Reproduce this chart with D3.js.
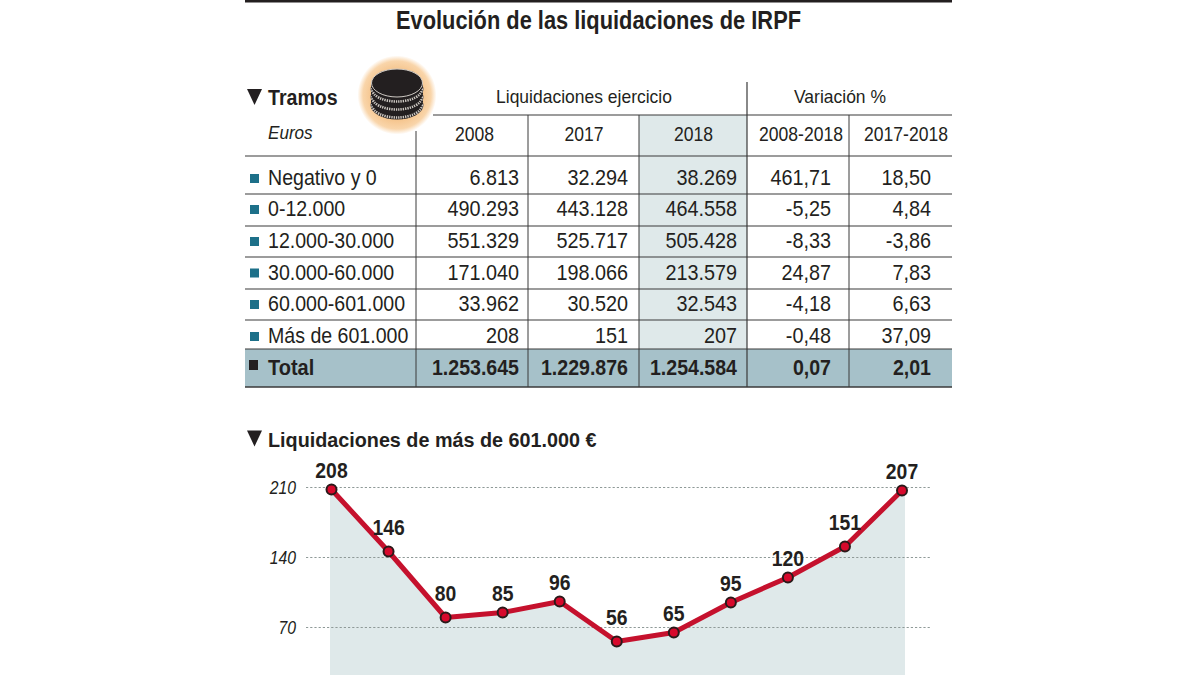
<!DOCTYPE html>
<html><head><meta charset="utf-8">
<script src="https://cdn.jsdelivr.net/npm/d3@7/dist/d3.min.js"></script>
<style>html,body{margin:0;padding:0;background:#fff}svg{display:block}text{font-family:"Liberation Sans",Arial,sans-serif;fill:#231f20}</style>
</head><body><svg id="c" width="1200" height="675"></svg>
<script>
const title="Evolución de las liquidaciones de IRPF";
const tramos=["Negativo y 0","0-12.000","12.000-30.000","30.000-60.000","60.000-601.000","Más de 601.000"];
const col2008=["6.813","490.293","551.329","171.040","33.962","208"];
const col2017=["32.294","443.128","525.717","198.066","30.520","151"];
const col2018=["38.269","464.558","505.428","213.579","32.543","207"];
const var0818=["461,71","-5,25","-8,33","24,87","-4,18","-0,48"];
const var1718=["18,50","4,84","-3,86","7,83","6,63","37,09"];
const totalRow=["1.253.645","1.229.876","1.254.584","0,07","2,01"];
const headYears=["2008","2017","2018","2008-2018","2017-2018"];
const years=[2008,2009,2010,2011,2012,2013,2014,2015,2016,2017,2018];
const liquidaciones=[208,146,80,85,96,56,65,95,120,151,207];
const yTicks=[70,140,210];

const svg=d3.select("#c");
const ink="#231f20", line="#3a3a3a";
// o.c squeezes the text horizontally to the narrower face of the original
const T=(x,y,s,size,o={})=>{
  const t=svg.append("text").attr("x",x).attr("y",y).text(s)
    .attr("font-size",size).attr("text-anchor",o.a||"start").attr("font-weight",o.b?"700":"400")
    .attr("font-style",o.i?"italic":"normal");
  if(o.c){t.attr("textLength",t.node().getComputedTextLength()*o.c).attr("lengthAdjust","spacingAndGlyphs");}
  return t;
};
const L=(x1,y1,x2,y2,w=1,c=line)=>svg.append("line").attr("x1",x1).attr("y1",y1).attr("x2",x2).attr("y2",y2).attr("stroke",c).attr("stroke-width",w);
const R=(x,y,w,h,c)=>svg.append("rect").attr("x",x).attr("y",y).attr("width",w).attr("height",h).attr("fill",c);
const tri=(x,y)=>svg.append("path").attr("d",`M${x},${y}h15l-7.5,16z`).attr("fill",ink);

R(245,0,707,2.5,ink);
T(598.5,29,title,25,{a:"middle",b:1,c:.873});

// table
const left=245,right=952;
const rowEdges=[156,194,226,257,289,320,349];
R(639,115,108,234,"#dfe9ea");
R(left,349,right-left,38,"#a6c1c9");
L(433,115,right,115,1.2);
L(left,156,right,156,1.2);
rowEdges.slice(1).forEach(y=>L(left,y,right,y,1.1));
L(left,387,right,387,1.4);
L(416,131,416,387);
[528,639,849].forEach(x=>L(x,115,x,387));
L(747,82,747,387,1.2);

tri(247,89);
T(268,105,"Tramos",22,{b:1,c:.89});
T(268,139,"Euros",19,{i:1,c:.9});
T(584,103,"Liquidaciones ejercicio",19,{a:"middle",c:.92});
T(840,103,"Variación %",19,{a:"middle",c:.92});
const headX=[474.5,584,693.5,801,906];
headYears.forEach((h,i)=>T(headX[i],141,h,19.5,{a:"middle",c:.9}));

const rightX=[519,628,737,831,931];
const cols=[col2008,col2017,col2018,var0818,var1718];
const baseY=[185,216,248,279.5,311,343];
tramos.forEach((t,i)=>{
  R(250,baseY[i]-11,9,9,"#1d7089");
  T(268,baseY[i],t,21.5,{c:.91});
  cols.forEach((c,j)=>T(rightX[j],baseY[i],c[i],22,{a:"end",c:.9}));
});
R(249,360,9,10,ink);
T(268,375,"Total",21.5,{b:1,c:.93});
totalRow.forEach((v,j)=>T(rightX[j],375,v,21.5,{a:"end",b:1,c:.91}));

// coins
const defs=svg.append("defs");
const g=defs.append("radialGradient").attr("id","glow");
g.append("stop").attr("offset","0.62").attr("stop-color","#f5c48c");
g.append("stop").attr("offset","0.86").attr("stop-color","#f9d5aa");
g.append("stop").attr("offset","1").attr("stop-color","#fff");
svg.append("circle").attr("cx",397).attr("cy",95).attr("r",39.5).attr("fill","url(#glow)");
[105,97,89].forEach(cy=>{
  svg.append("ellipse").attr("cx",397).attr("cy",cy).attr("rx",26.5).attr("ry",14.5).attr("fill",ink);
  svg.append("ellipse").attr("cx",397).attr("cy",cy).attr("rx",25).attr("ry",12.5).attr("fill","none").attr("stroke","#cfcac4").attr("stroke-width",2.6).attr("stroke-dasharray","1.3 1");
  svg.append("ellipse").attr("cx",397).attr("cy",cy-3.5).attr("rx",26).attr("ry",13).attr("fill",ink);
});
svg.append("ellipse").attr("cx",397).attr("cy",83).attr("rx",25.5).attr("ry",14).attr("fill",ink).attr("stroke","#cfcac4").attr("stroke-width",1);

// line chart
tri(247,430.5);
T(268,447,"Liquidaciones de más de 601.000 €",21,{b:1,c:.941});
const x=d3.scalePoint().domain(years).range([331.5,902]);
const y=d3.scaleLinear().domain([70,210]).range([627.5,487.5]);
const y0=675;
svg.append("path").attr("fill","#dfe9ea").attr("d",
  `M330,${y(liquidaciones[0])}`+
  d3.line().x((d,i)=>x(years[i])).y(d=>y(d))(liquidaciones).replace(/^M/,"L")+
  `L905,${y(207)}L905,${y0}L330,${y0}Z`);
yTicks.forEach(t=>{
  svg.append("line").attr("x1",306).attr("x2",930).attr("y1",y(t)).attr("y2",y(t))
    .attr("stroke","#8f9a98").attr("stroke-width",1.1).attr("stroke-dasharray","2.2 2");
  T(296,y(t)+6,t,17.5,{a:"end",i:1,c:.9});
});
svg.append("path").datum(liquidaciones).attr("fill","none").attr("stroke","#c5112d").attr("stroke-width",5)
  .attr("stroke-linejoin","round").attr("d",d3.line().x((d,i)=>x(years[i])).y(d=>y(d)));
svg.selectAll("circle.p").data(liquidaciones).join("circle").attr("class","p")
  .attr("cx",(d,i)=>x(years[i])).attr("cy",d=>y(d)).attr("r",5)
  .attr("fill","#d7092c").attr("stroke","#2a1a1a").attr("stroke-width",2);
const raisedLabels=[2009,2010,2013,2017];
liquidaciones.forEach((d,i)=>T(x(years[i]),y(d)-(raisedLabels.includes(years[i])?17:11.5),d,22,{a:"middle",b:1,c:.88}));
</script></body></html>
